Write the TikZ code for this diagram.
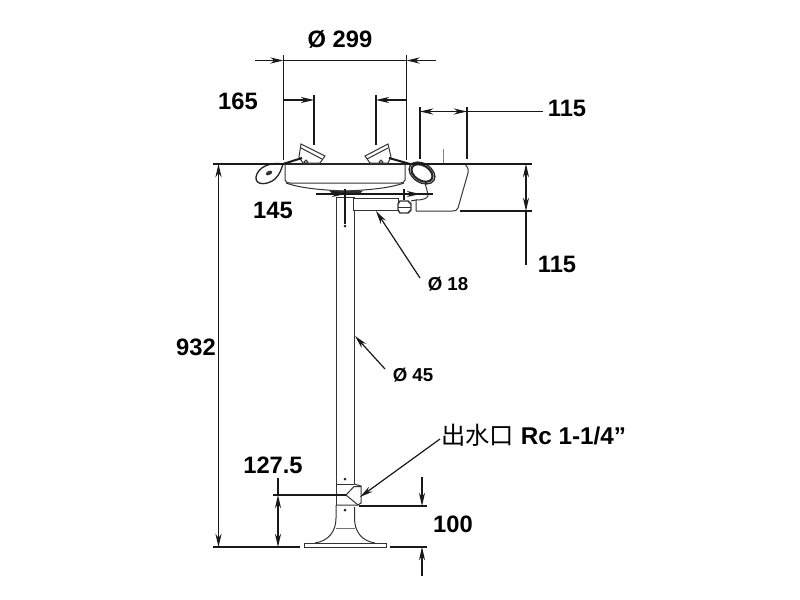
\documentclass[tikz,border=0pt]{standalone}
\usepackage{fontspec}
\setmainfont{Liberation Sans}
\newfontfamily\cjk{Noto Sans CJK SC}
\usetikzlibrary{arrows.meta}
\begin{document}
\begin{tikzpicture}[
      x=0.75pt,y=-0.75pt,
      dim/.style={line width=0.9pt,black!90},
      tip/.style={dim,-{Stealth[length=10pt,width=4.6pt]}},
      part/.style={line width=0.75pt,black!80},
      heavy/.style={line width=1.5pt,black!90},
      bigtext/.style={inner sep=0pt,font=\fontsize{17.8}{20}\selectfont\bfseries},
      smalltext/.style={inner sep=0pt,font=\fontsize{14}{17}\selectfont\bfseries}
    ]
      \useasboundingbox (0,0) rectangle (800,600);
      % basin
      \draw[part] (285,164) -- (285,180) to[out=-90,in=180] (290,183) -- (400,183) to[out=0,in=-90] (405,180) -- (405,164);
      \draw[part] (286,183) .. controls (300,188) and (320,190) .. (345,191) .. controls (370,190) and (390,188) .. (404,183);
      \draw[line width=1.2pt,black!85] (285,164) -- (410,164);
      % spray heads
      \draw[part,fill=white] (303,163) -- (299,157) -- (301,144) -- (325,156) -- (320,163) -- cycle;
      \draw[part] (301,148) -- (322,159);
      \draw[part] (306,162) circle [radius=1.8];
      \draw[part,fill=white] (388,163) -- (391,157) -- (388,144) -- (365,156) -- (370,163) -- cycle;
      \draw[part] (388,148) -- (367,159);
      \draw[part] (381,162) circle [radius=1.8];
      \draw[heavy] (283,164) -- (302,158);
      \draw[heavy] (389,158) -- (410,164);
      % left eye piece
      \draw[line width=1pt,black!85,fill=white] (283,164) .. controls (272,162) and (258,166) .. (256,177) .. controls (255,186) and (268,185) .. (275,179) .. controls (280,174) and (281,170) .. (283,164);
      \fill[black!80,rotate around={25:(269,173)}] (269,173) ellipse [x radius=3.5,y radius=2];
      % right eye piece
      \draw[line width=1pt,black!85,fill=white,rotate around={-32:(422,173)}] (422,173) ellipse [x radius=14,y radius=9.5];
      \draw[line width=1.6pt,black!85,rotate around={-32:(422,173)}] (422,173) ellipse [x radius=11.5,y radius=7.5];
      % valve and side pipe
      \draw[part,fill=white] (353,198) -- (398,198) -- (398,210) -- (353,210) -- cycle;
      \draw[line width=1.1pt,black!80,fill=white] (398,204) -- (400,201) -- (408,201) -- (411,204) -- (411,210) -- (408,213) -- (400,213) -- (398,210) -- cycle;
      \draw[part] (398,207) -- (411,207);
      \draw[part] (411,201) -- (416,200) -- (416,211);
      \draw[part] (416,200) .. controls (424,200) and (429,198) .. (428,194) -- (425,183);
      \draw[part] (416,211) -- (452,211) .. controls (456,211) and (457,210) .. (458,208) -- (468,173) .. controls (469,169) and (467,166) .. (465,164);
      \draw[part,black!50] (443,149) -- (443,164);
      % column
      \draw[part] (336,197) -- (336,484);
      \draw[part] (354.5,197) -- (354.5,198);
      \draw[part] (354.5,210) -- (354.5,484);
      \draw[part,fill=black!85] (330,191) -- (362,191) -- (360,193) -- (332,193) -- cycle;
      \draw[part] (336,197) -- (354.5,197);
      \fill[black!85] (345,226) circle [radius=1.5];
      \fill[black!85] (345,479) circle [radius=1.5];
      \fill[black!85] (345,510) circle [radius=1.5];
      % outlet fitting
      \draw[part] (336,484) -- (354,484);
      \draw[part] (336,484) -- (336,505);
      \draw[part] (354,484) -- (361,486) -- (361,503) -- (358,505) -- (354,505) -- (336,505);
      \draw[part] (346,495) -- (354,486.5) -- (361,486.5);
      \draw[part] (346,495) -- (358,505);
      % foot
      \draw[part] (336,505) -- (336,518) .. controls (336,532) and (328,541) .. (315,543);
      \draw[part] (354.5,507) -- (354.5,518) .. controls (354.5,532) and (362,541) .. (375,543);
      \draw[part,black!55] (336,528) -- (354.5,528);
      \draw[part] (304,543) rectangle (386,547);
      % overall height
      \coordinate (topleft) at (213,164);
      \coordinate (topright) at (531.5,164);
      \coordinate (botleft) at (300,547);
      \draw[dim] (topleft) -- (285,164);
      \draw[dim] (410,164) -- (topright);
      \draw[dim] (213,547) -- (botleft);
      \draw[tip] (218.5,348) -- (218.5,164);
      \draw[tip] (218.5,348) -- (218.5,547);
      % top width
      \draw[dim] (283.5,55) -- (283.5,160);
      \draw[dim] (406.5,55) -- (406.5,160);
      \draw[tip] (255,60.5) -- (283.5,60.5);
      \draw[tip] (436,60.5) -- (406.5,60.5);
      \draw[dim] (283.5,60.5) -- (406.5,60.5);
      % spray spacing
      \draw[dim] (314,95) -- (314,145);
      \draw[dim] (376,95) -- (376,145);
      \draw[tip] (283.5,100) -- (314,100);
      \draw[tip] (406.5,100) -- (376,100);
      % right 115 horizontal
      \draw[dim] (420,107) -- (420,159);
      \draw[dim] (467,107) -- (467,159);
      \draw[tip] (444,111.5) -- (420,111.5);
      \draw[tip] (444,111.5) -- (467,111.5);
      \draw[dim] (467,111.5) -- (543,111.5);
      % right 115 vertical
      \draw[dim] (460,211) -- (531.5,211);
      \draw[tip] (526,188) -- (526,164);
      \draw[tip] (526,188) -- (526,211);
      \draw[dim] (526,211) -- (526,265);
      % 145
      \draw[dim] (316,194) -- (433,194);
      \draw[tip] (330,194) -- (345,194);
      \draw[tip] (400,194) -- (420,194);
      \draw[dim] (345,189) -- (345,224);
      \draw[dim] (404,189) -- (404,200);
      % leaders
      \draw[tip] (420,278) -- (376,211);
      \draw[tip] (385,369) -- (355,336);
      \draw[tip] (440,439) -- (360,497);
      % 127.5 and 100
      \draw[dim] (273,495) -- (346,495);
      \draw[tip] (278,520) -- (278,495);
      \draw[dim] (278,495) -- (278,478);
      \draw[tip] (278,520) -- (278,547);
      \draw[dim] (359,506) -- (427,506);
      \draw[dim] (390,547) -- (427,547);
      \draw[tip] (422,477) -- (422,506);
      \draw[tip] (422,576) -- (422,547);
      % labels
      \node[bigtext] (dia299) at (340,39) {Ø 299};
      \node[bigtext] (width165) at (238,101) {165};
      \node[bigtext] (width115) at (567,108) {115};
      \node[bigtext] (width145) at (273,210) {145};
      \node[bigtext] (height115) at (557,264) {115};
      \node[smalltext] (dia18) at (448,284) {Ø 18};
      \node[bigtext] (height932) at (196,347) {932};
      \node[smalltext] (dia45) at (413,375) {Ø 45};
      \node[bigtext] (height127) at (273,465) {127.5};
      \node[bigtext] (height100) at (453,524) {100};
      \node[inner sep=0pt,anchor=base west,font=\fontsize{18.2}{20}\selectfont] (outlet) at (441,444) {{\cjk 出水口} \textbf{Rc 1-1/4”}};
    \end{tikzpicture}
\end{document}
